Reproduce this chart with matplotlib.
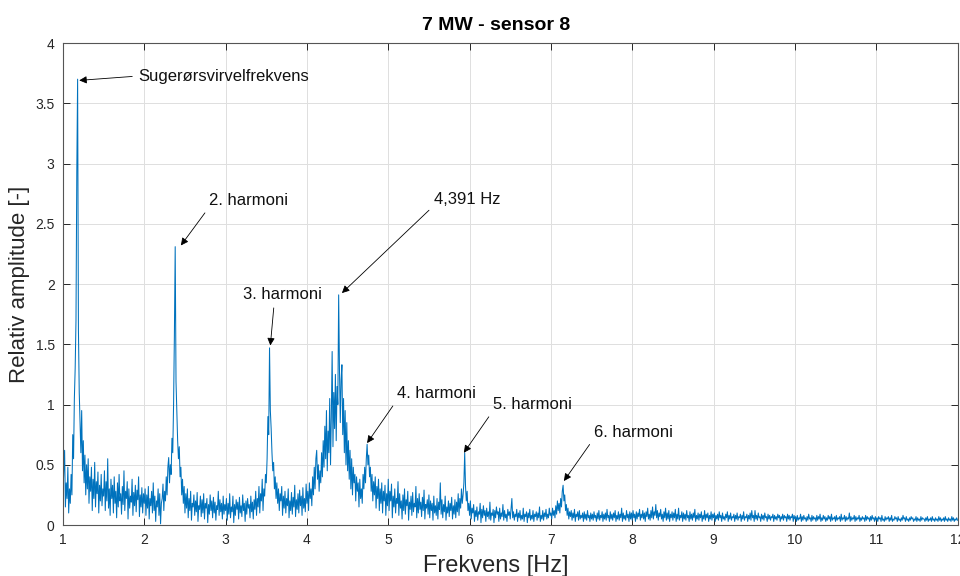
import numpy as np
import matplotlib
matplotlib.use('Agg')
import matplotlib.pyplot as plt

plt.rcParams['font.family'] = ['Liberation Sans', 'DejaVu Sans']

# frequency bins 1..12 Hz, 0.01 Hz step
freq = np.round(np.linspace(1.0, 12.0, 1101), 2)

# relative amplitude, one line = 0.1 Hz
amp = [
    # 1.0 - 1.5 Hz
    0.28, 0.45, 0.62, 0.15, 0.35, 0.22, 0.48, 0.10, 0.30, 0.18,
    0.42, 0.25, 0.75, 0.55, 1.05, 1.30, 1.70, 2.93, 3.70, 1.62,
    1.10, 0.85, 0.60, 0.95, 0.45, 0.70, 0.35, 0.58, 0.25, 0.50,
    0.30, 0.55, 0.18, 0.40, 0.28, 0.48, 0.12, 0.38, 0.22, 0.52,
    0.15, 0.36, 0.26, 0.44, 0.10, 0.33, 0.20, 0.42, 0.16, 0.30,
    # 1.5 - 2.0 Hz
    0.24, 0.45, 0.12, 0.36, 0.20, 0.55, 0.14, 0.30, 0.08, 0.38,
    0.22, 0.33, 0.10, 0.40, 0.18, 0.28, 0.06, 0.35, 0.15, 0.42,
    0.20, 0.26, 0.09, 0.32, 0.17, 0.45, 0.12, 0.28, 0.22, 0.36,
    0.05, 0.30, 0.14, 0.24, 0.19, 0.38, 0.08, 0.27, 0.16, 0.33,
    0.11, 0.29, 0.21, 0.40, 0.07, 0.25, 0.15, 0.31, 0.10, 0.26,
    # 2.0 - 2.5 Hz
    0.18, 0.30, 0.08, 0.25, 0.14, 0.32, 0.05, 0.22, 0.16, 0.28,
    0.10, 0.35, 0.12, 0.24, 0.03, 0.20, 0.15, 0.30, 0.08, 0.26,
    0.01, 0.18, 0.22, 0.34, 0.12, 0.28, 0.20, 0.40, 0.25, 0.48,
    0.56, 0.35, 0.50, 0.42, 0.72, 0.60, 1.00, 1.57, 2.31, 1.19,
    0.95, 0.70, 0.55, 0.65, 0.40, 0.48, 0.25, 0.38, 0.18, 0.32,
    # 2.5 - 3.0 Hz
    0.10, 0.26, 0.14, 0.30, 0.06, 0.22, 0.12, 0.28, 0.04, 0.18,
    0.15, 0.25, 0.08, 0.20, 0.11, 0.27, 0.03, 0.16, 0.13, 0.24,
    0.07, 0.21, 0.10, 0.26, 0.05, 0.18, 0.14, 0.22, 0.02, 0.17,
    0.09, 0.25, 0.12, 0.20, 0.06, 0.23, 0.10, 0.19, 0.04, 0.16,
    0.13, 0.28, 0.08, 0.21, 0.11, 0.18, 0.05, 0.24, 0.09, 0.17,
    # 3.0 - 3.5 Hz
    0.12, 0.22, 0.04, 0.18, 0.09, 0.26, 0.06, 0.15, 0.11, 0.24,
    0.02, 0.17, 0.08, 0.21, 0.13, 0.19, 0.05, 0.23, 0.10, 0.16,
    0.07, 0.25, 0.12, 0.18, 0.03, 0.20, 0.09, 0.22, 0.14, 0.17,
    0.06, 0.24, 0.11, 0.19, 0.05, 0.21, 0.13, 0.28, 0.08, 0.22,
    0.15, 0.32, 0.10, 0.26, 0.20, 0.38, 0.12, 0.30, 0.24, 0.42,
    # 3.5 - 4.0 Hz
    0.35, 0.55, 0.90, 0.75, 1.47, 0.95, 0.80, 0.60, 0.45, 0.52,
    0.30, 0.40, 0.22, 0.35, 0.18, 0.30, 0.12, 0.26, 0.20, 0.32,
    0.08, 0.24, 0.14, 0.28, 0.10, 0.22, 0.16, 0.30, 0.06, 0.20,
    0.12, 0.27, 0.09, 0.23, 0.15, 0.33, 0.07, 0.21, 0.13, 0.26,
    0.10, 0.29, 0.16, 0.24, 0.08, 0.31, 0.14, 0.22, 0.11, 0.34,
    # 4.0 - 4.5 Hz
    0.18, 0.28, 0.12, 0.35, 0.22, 0.30, 0.16, 0.40, 0.25, 0.48,
    0.30, 0.55, 0.62, 0.38, 0.50, 0.28, 0.45, 0.35, 0.60, 0.40,
    0.70, 0.48, 0.82, 0.55, 0.95, 0.45, 0.78, 0.60, 1.05, 0.50,
    0.90, 1.44, 0.65, 1.10, 0.80, 1.25, 0.70, 1.15, 1.00, 1.91,
    1.30, 0.85, 1.20, 1.33, 0.75, 1.05, 0.60, 0.95, 0.50, 0.85,
    # 4.5 - 5.0 Hz
    0.45, 0.70, 0.38, 0.62, 0.30, 0.55, 0.25, 0.48, 0.35, 0.42,
    0.20, 0.40, 0.28, 0.35, 0.15, 0.38, 0.22, 0.30, 0.18, 0.42,
    0.30, 0.48, 0.35, 0.55, 0.67, 0.50, 0.58, 0.40, 0.48, 0.28,
    0.42, 0.20, 0.36, 0.25, 0.40, 0.14, 0.32, 0.22, 0.38, 0.12,
    0.30, 0.18, 0.35, 0.10, 0.28, 0.20, 0.33, 0.08, 0.26, 0.16,
    # 5.0 - 5.5 Hz
    0.38, 0.12, 0.28, 0.20, 0.34, 0.06, 0.24, 0.15, 0.30, 0.10,
    0.22, 0.18, 0.36, 0.08, 0.26, 0.14, 0.20, 0.05, 0.25, 0.12,
    0.30, 0.09, 0.21, 0.16, 0.28, 0.04, 0.19, 0.13, 0.24, 0.08,
    0.27, 0.11, 0.18, 0.15, 0.32, 0.06, 0.22, 0.10, 0.26, 0.13,
    0.19, 0.07, 0.23, 0.12, 0.29, 0.05, 0.17, 0.14, 0.21, 0.09,
    # 5.5 - 6.0 Hz
    0.25, 0.06, 0.20, 0.12, 0.18, 0.04, 0.24, 0.10, 0.16, 0.08,
    0.22, 0.05, 0.19, 0.13, 0.35, 0.09, 0.21, 0.06, 0.17, 0.11,
    0.24, 0.04, 0.15, 0.10, 0.20, 0.07, 0.18, 0.12, 0.23, 0.05,
    0.16, 0.09, 0.21, 0.06, 0.19, 0.11, 0.26, 0.08, 0.22, 0.14,
    0.30, 0.18, 0.25, 0.35, 0.60, 0.32, 0.20, 0.28, 0.12, 0.18,
    # 6.0 - 6.5 Hz
    0.08, 0.20, 0.05, 0.14, 0.10, 0.17, 0.03, 0.12, 0.07, 0.15,
    0.04, 0.11, 0.09, 0.18, 0.02, 0.13, 0.06, 0.16, 0.08, 0.12,
    0.03, 0.14, 0.07, 0.11, 0.05, 0.19, 0.04, 0.10, 0.08, 0.13,
    0.02, 0.12, 0.06, 0.15, 0.09, 0.11, 0.03, 0.14, 0.05, 0.10,
    0.07, 0.17, 0.04, 0.12, 0.06, 0.09, 0.03, 0.13, 0.08, 0.11,
    # 6.5 - 7.0 Hz
    0.05, 0.14, 0.22, 0.06, 0.11, 0.04, 0.09, 0.07, 0.13, 0.03,
    0.10, 0.06, 0.12, 0.04, 0.08, 0.05, 0.14, 0.03, 0.09, 0.07,
    0.11, 0.02, 0.10, 0.06, 0.13, 0.04, 0.08, 0.05, 0.12, 0.03,
    0.09, 0.07, 0.11, 0.04, 0.10, 0.06, 0.15, 0.03, 0.08, 0.05,
    0.12, 0.04, 0.10, 0.07, 0.13, 0.05, 0.09, 0.06, 0.14, 0.08,
    # 7.0 - 7.5 Hz
    0.10, 0.05, 0.14, 0.08, 0.12, 0.06, 0.16, 0.09, 0.20, 0.12,
    0.18, 0.10, 0.22, 0.15, 0.28, 0.33, 0.20, 0.25, 0.12, 0.17,
    0.08, 0.14, 0.05, 0.11, 0.07, 0.12, 0.04, 0.10, 0.06, 0.13,
    0.03, 0.09, 0.07, 0.11, 0.04, 0.12, 0.05, 0.08, 0.06, 0.10,
    0.03, 0.11, 0.05, 0.09, 0.04, 0.12, 0.06, 0.08, 0.03, 0.10,
    # 7.5 - 8.0 Hz
    0.05, 0.09, 0.04, 0.11, 0.06, 0.08, 0.03, 0.10, 0.05, 0.12,
    0.04, 0.08, 0.06, 0.11, 0.03, 0.09, 0.05, 0.10, 0.04, 0.13,
    0.06, 0.08, 0.03, 0.11, 0.05, 0.09, 0.04, 0.10, 0.06, 0.12,
    0.03, 0.08, 0.05, 0.11, 0.04, 0.09, 0.06, 0.14, 0.03, 0.10,
    0.05, 0.08, 0.04, 0.12, 0.06, 0.09, 0.03, 0.11, 0.05, 0.10,
    # 8.0 - 8.5 Hz
    0.04, 0.12, 0.06, 0.09, 0.03, 0.11, 0.05, 0.10, 0.07, 0.13,
    0.04, 0.09, 0.06, 0.12, 0.05, 0.10, 0.03, 0.11, 0.07, 0.14,
    0.05, 0.09, 0.04, 0.12, 0.06, 0.15, 0.05, 0.11, 0.08, 0.17,
    0.06, 0.12, 0.04, 0.10, 0.07, 0.13, 0.05, 0.09, 0.03, 0.11,
    0.06, 0.14, 0.04, 0.10, 0.05, 0.12, 0.03, 0.09, 0.06, 0.11,
    # 8.5 - 9.0 Hz
    0.04, 0.10, 0.06, 0.13, 0.03, 0.09, 0.05, 0.14, 0.04, 0.08,
    0.06, 0.11, 0.03, 0.10, 0.05, 0.09, 0.04, 0.12, 0.06, 0.08,
    0.03, 0.11, 0.05, 0.09, 0.04, 0.10, 0.06, 0.13, 0.03, 0.08,
    0.05, 0.10, 0.04, 0.09, 0.06, 0.11, 0.03, 0.08, 0.05, 0.12,
    0.04, 0.09, 0.06, 0.10, 0.03, 0.08, 0.05, 0.11, 0.04, 0.09,
    # 9.0 - 9.5 Hz
    0.06, 0.10, 0.03, 0.08, 0.05, 0.09, 0.04, 0.11, 0.06, 0.08,
    0.03, 0.10, 0.05, 0.07, 0.04, 0.09, 0.06, 0.11, 0.03, 0.08,
    0.05, 0.10, 0.04, 0.07, 0.06, 0.09, 0.03, 0.08, 0.05, 0.10,
    0.04, 0.07, 0.06, 0.09, 0.03, 0.08, 0.05, 0.11, 0.04, 0.07,
    0.06, 0.09, 0.03, 0.08, 0.05, 0.10, 0.04, 0.12, 0.06, 0.08,
    # 9.5 - 10.0 Hz
    0.03, 0.12, 0.05, 0.08, 0.04, 0.10, 0.06, 0.07, 0.03, 0.09,
    0.05, 0.08, 0.04, 0.10, 0.06, 0.07, 0.03, 0.09, 0.05, 0.08,
    0.04, 0.07, 0.06, 0.09, 0.03, 0.08, 0.05, 0.07, 0.04, 0.09,
    0.06, 0.08, 0.03, 0.07, 0.05, 0.09, 0.04, 0.08, 0.06, 0.07,
    0.03, 0.09, 0.05, 0.08, 0.04, 0.07, 0.06, 0.09, 0.03, 0.08,
    # 10.0 - 10.5 Hz
    0.05, 0.07, 0.03, 0.08, 0.04, 0.06, 0.05, 0.09, 0.03, 0.07,
    0.04, 0.08, 0.05, 0.06, 0.03, 0.07, 0.04, 0.09, 0.05, 0.06,
    0.03, 0.08, 0.04, 0.07, 0.05, 0.06, 0.03, 0.08, 0.04, 0.07,
    0.05, 0.09, 0.03, 0.06, 0.04, 0.08, 0.05, 0.07, 0.03, 0.06,
    0.04, 0.08, 0.05, 0.07, 0.03, 0.09, 0.04, 0.06, 0.05, 0.07,
    # 10.5 - 11.0 Hz
    0.03, 0.08, 0.04, 0.06, 0.05, 0.07, 0.03, 0.09, 0.04, 0.06,
    0.05, 0.08, 0.03, 0.07, 0.04, 0.06, 0.05, 0.10, 0.03, 0.07,
    0.04, 0.06, 0.05, 0.08, 0.03, 0.07, 0.04, 0.06, 0.05, 0.08,
    0.03, 0.06, 0.04, 0.07, 0.05, 0.06, 0.03, 0.08, 0.04, 0.07,
    0.05, 0.06, 0.03, 0.07, 0.04, 0.08, 0.05, 0.06, 0.03, 0.07,
    # 11.0 - 11.5 Hz
    0.04, 0.06, 0.03, 0.07, 0.05, 0.06, 0.03, 0.08, 0.04, 0.05,
    0.03, 0.07, 0.04, 0.06, 0.05, 0.07, 0.03, 0.06, 0.04, 0.08,
    0.03, 0.05, 0.04, 0.07, 0.05, 0.06, 0.03, 0.07, 0.04, 0.05,
    0.03, 0.06, 0.04, 0.08, 0.05, 0.06, 0.03, 0.07, 0.04, 0.05,
    0.03, 0.06, 0.04, 0.07, 0.05, 0.06, 0.03, 0.05, 0.04, 0.07,
    # 11.5 - 12.0 Hz
    0.03, 0.06, 0.04, 0.05, 0.03, 0.07, 0.04, 0.06, 0.05, 0.05,
    0.03, 0.06, 0.04, 0.07, 0.03, 0.05, 0.04, 0.06, 0.03, 0.07,
    0.04, 0.05, 0.03, 0.06, 0.04, 0.05, 0.03, 0.07, 0.04, 0.06,
    0.03, 0.05, 0.04, 0.06, 0.03, 0.07, 0.04, 0.05, 0.03, 0.06,
    0.04, 0.05, 0.03, 0.07, 0.04, 0.06, 0.03, 0.05, 0.04, 0.06,
    0.04,
]
assert len(amp) == len(freq)

# annotations: label, arrow tip (x, y), text anchor (x, y)
labels = ['Sugerørsvirvelfrekvens', '2. harmoni', '3. harmoni', '4,391 Hz',
          '4. harmoni', '5. harmoni', '6. harmoni']
tips = [(1.20, 3.69), (2.45, 2.32), (3.55, 1.49), (4.43, 1.925),
        (4.74, 0.68), (5.93, 0.60), (7.16, 0.365)]
text_pos = [(1.92, 3.726), (2.80, 2.69), (3.21, 1.91), (5.56, 2.70),
            (5.11, 1.09), (6.29, 1.00), (7.53, 0.77)]
arrow_from = [(0, 0.5), (0, 0.1), (0.4, 0), (0, 0.1),
              (0, 0.1), (0, 0.1), (0, 0.1)]

fig = plt.figure(figsize=(9.6, 5.76), dpi=100)
ax = fig.add_axes([0.0656, 0.0885, 0.9318, 0.8368])

ax.plot(freq, amp, color='#0072BD', lw=0.75)

ax.set_xlim(1, 12)
ax.set_ylim(0, 4)
ax.set_xticks(range(1, 13))
ax.set_yticks([0, 0.5, 1, 1.5, 2, 2.5, 3, 3.5, 4])
ax.set_yticklabels(['0', '0.5', '1', '1.5', '2', '2.5', '3', '3.5', '4'])
ax.grid(True, color='#dfdfdf', lw=0.7)
ax.set_axisbelow(True)
ax.tick_params(direction='in', top=True, right=True, length=5, width=0.7,
               labelsize=10, colors='#262626', pad=6)
for s in ax.spines.values():
    s.set_color('#555555')
    s.set_linewidth(0.8)

ax.set_xlabel('Frekvens [Hz]', fontsize=17, color='#262626')
ax.xaxis.set_label_coords(0.484, -0.062)
ax.set_ylabel('Relativ amplitude [-]', fontsize=16, color='#262626', labelpad=4)
fig.text(0.517, 0.955, '7 MW - sensor 8', ha='center', va='center',
         fontsize=14, fontweight='bold')

for i, lab in enumerate(labels):
    ax.annotate(lab, xy=tips[i], xytext=text_pos[i], ha='left', va='center',
                fontsize=12, color='#111111',
                arrowprops=dict(arrowstyle='-|>', color='black', lw=0.6,
                                mutation_scale=11, shrinkA=2, shrinkB=0,
                                relpos=arrow_from[i]))

plt.savefig('out.png', dpi=100)
